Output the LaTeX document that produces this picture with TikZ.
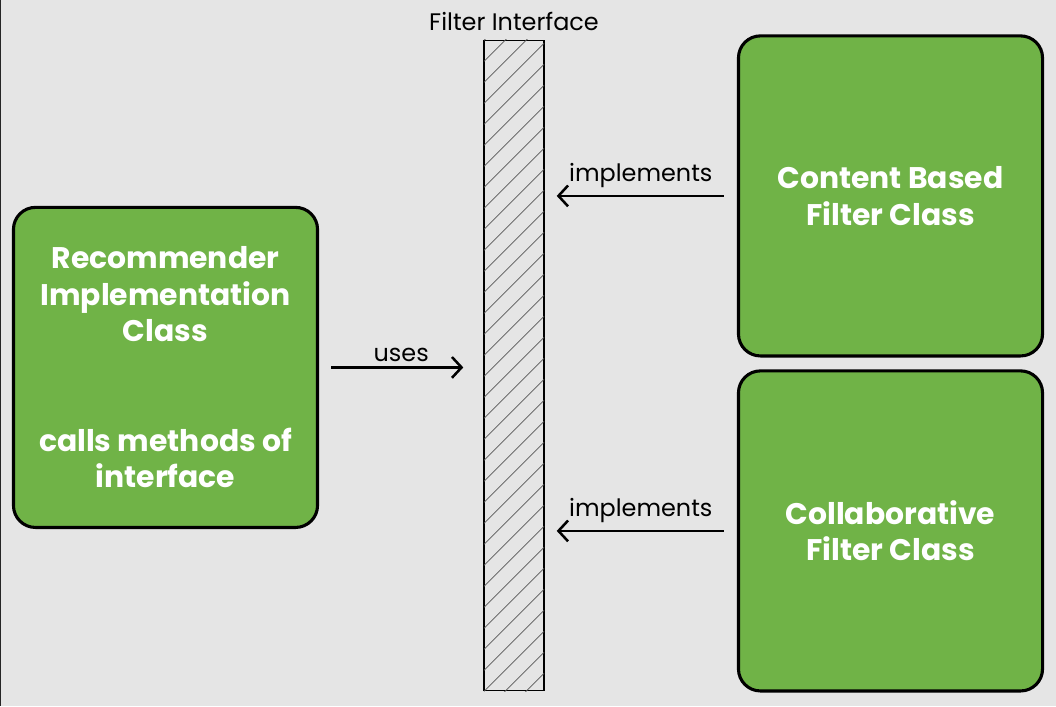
\documentclass[tikz,border=0pt]{standalone}
\usepackage{fontspec}
\setmainfont{Poppins}
\usetikzlibrary{positioning, arrows.meta}
\definecolor{bg}{HTML}{E5E5E5}
\definecolor{leaf}{HTML}{70B347}

\begin{document}
\begin{tikzpicture}[x=0.025cm, y=-0.025cm, >={Straight Barb[length=0.24cm, width=0.52cm]},
    cls/.style={draw=black, fill=leaf, line width=2.2pt, rounded corners=0.55cm,
        minimum width=7.6cm, minimum height=8.0cm, text=white, align=center,
        font=\bfseries\fontsize{21.2}{25.9}\selectfont},
    iface/.style={draw=black, line width=1pt, minimum width=1.5cm, minimum height=16.25cm, inner sep=0pt},
    hatch/.style={gray!70!black, line width=0.5pt},
    conn/.style={->, line width=1.8pt},
    lbl/.style={font=\fontsize{17}{20}\selectfont, inner sep=2pt}]
    \fill[bg] (0,0) rectangle (1056,706);
    \draw[black!85, line width=0.6pt] (0.5,0) -- (0.5,706);
    \node[iface] (f) at (514,365) {};
    \begin{scope}
        \clip (f.south west) rectangle (f.north east);
        \foreach \k in {0,...,34}
            \draw[hatch] (484,{40+21*\k}) -- ++(60,-60);
    \end{scope}
    \node[lbl, above=0.15cm of f] (ft) {Filter Interface};
    \node[cls] (rec) at (165.5,367) {Recommender\\Implementation\\Class\\[1.83cm]calls methods of\\interface};
    \node[cls] (cb) at (890.5,195.5) {Content Based\\Filter Class};
    \node[cls] (cf) at (890.5,530.5) {Collaborative\\Filter Class};
    \draw[conn, shorten <=0.3cm, shorten >=0.5cm] (rec.east) -- (rec.east -| f.west)
        node[lbl, midway, above=0.05cm] {uses};
    \draw[conn, shorten <=0.33cm, shorten >=0.3cm] (cb.west) -- (cb.west -| f.east)
        node[lbl, midway, above=0.1cm] {implements};
    \draw[conn, shorten <=0.33cm, shorten >=0.3cm] (cf.west) -- (cf.west -| f.east)
        node[lbl, midway, above=0.1cm] {implements};
\end{tikzpicture}
\end{document}
